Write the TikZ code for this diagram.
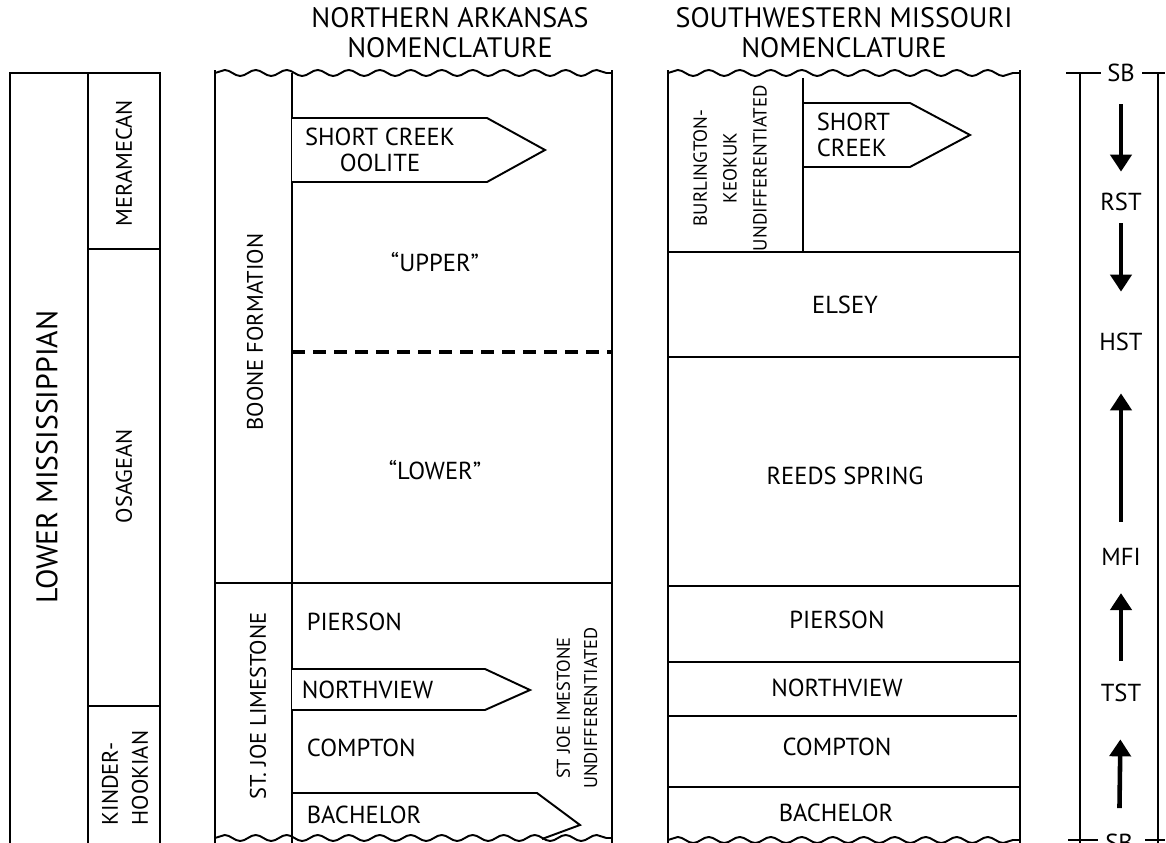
\documentclass[tikz,border=0pt]{standalone}
\usepackage{fontspec}
\setmainfont{PT Sans}
\usetikzlibrary{arrows.meta,decorations.pathmorphing}

\tikzset{
    wavy/.style={decorate,decoration={snake,segment length=0.62cm,amplitude=0.06cm}},
    bigdash/.style={line width=2.3pt,dash pattern=on 0.26cm off 0.16cm},
    vlbl/.style={rotate=90,align=center,font=\fontsize{12.8}{17}\selectfont},
    smallvlbl/.style={rotate=90,align=center,font=\fontsize{10.8}{17}\selectfont},
    headlbl/.style={align=center,font=\fontsize{16}{17}\selectfont},
    seqlbl/.style={inner sep=0pt},
    seqarrow/.style={line width=2.6pt,-{Triangle[width=0.42cm,length=0.34cm]}},
}

\begin{document}
\begin{tikzpicture}[line width=1.1pt,font=\fontsize{14}{17}\selectfont]
        \useasboundingbox (0,0) rectangle (23.32,16.86);

        \draw (0.2,0) -- (0.2,15.4) -- (3.2,15.4) -- (3.2,0);
        \draw (1.76,0) -- (1.76,15.4);
        \draw (1.76,11.88) -- (3.2,11.88);
        \draw (1.76,2.74) -- (3.2,2.74);
        \node[rotate=90,font=\fontsize{17}{20}\selectfont] (lowmiss) at (0.94,7.72) {LOWER MISSISSIPPIAN};
        \node[vlbl] (meramecan) at (2.48,13.6) {MERAMECAN};
        \node[vlbl] (osagean) at (2.48,7.34) {OSAGEAN};
        \node[vlbl,align=left] (kinder) at (2.5,1.3) {KINDER-\\HOOKIAN};

        \node[headlbl] (nahead) at (9.0,16.2) {NORTHERN ARKANSAS\\NOMENCLATURE};
        \draw[wavy] (4.3,15.4) -- (12.24,15.4);
        \draw[wavy] (4.3,0.1) -- (12.24,0.1);
        \draw (4.3,15.45) -- (4.3,0);
        \draw (5.84,15.4) -- (5.84,0);
        \draw (12.24,15.45) -- (12.24,0);
        \draw (4.3,5.2) -- (12.24,5.2);
        \draw[bigdash] (5.84,9.82) -- (12.24,9.82);
        \draw[fill=white] (5.84,14.5) -- (9.74,14.5) -- (10.9,13.86) -- (9.74,13.22) -- (5.84,13.22);
        \draw[fill=white] (5.84,3.48) -- (9.7,3.48) -- (10.6,3.06) -- (9.7,2.66) -- (5.84,2.66);
        \draw (5.84,1.0) -- (10.74,1.0) -- (11.6,0.36) -- (10.84,0.08);
        \node[vlbl] (boone) at (5.1,10.22) {BOONE FORMATION};
        \node[vlbl] (stjoe) at (5.16,2.74) {ST. JOE LIMESTONE};
        \node[align=center,font=\fontsize{14}{14.5}\selectfont] (oolite) at (7.6,13.86) {SHORT CREEK\\OOLITE};
        \node (upper) at (8.7,11.62) {“UPPER”};
        \node (lower) at (8.7,7.46) {“LOWER”};
        \node[anchor=west] (napierson) at (6.0,4.42) {PIERSON};
        \node[anchor=west] (nanorthview) at (5.9,3.06) {NORTHVIEW};
        \node[anchor=west] (nacompton) at (6.0,1.9) {COMPTON};
        \node[anchor=west] (nabachelor) at (6.0,0.56) {BACHELOR};
        \node[smallvlbl,font=\fontsize{10.5}{15.5}\selectfont] (stjoeund) at (11.54,2.7) {ST JOE IMESTONE\\UNDIFFERENTIATED};

        \node[headlbl] (mohead) at (16.88,16.2) {SOUTHWESTERN MISSOURI\\NOMENCLATURE};
        \draw[wavy] (13.36,15.4) -- (20.4,15.4);
        \draw[wavy] (13.36,0.06) -- (20.4,0.06);
        \draw (13.36,15.45) -- (13.36,0);
        \draw (20.4,15.45) -- (20.4,0);
        \draw (16.06,15.3) -- (16.06,11.82);
        \draw (13.36,11.82) -- (20.4,11.82);
        \draw (13.36,9.72) -- (20.4,9.72);
        \draw (13.36,5.14) -- (20.4,5.14);
        \draw (13.36,3.62) -- (20.4,3.62);
        \draw (13.36,2.54) -- (20.34,2.54);
        \draw (13.36,1.12) -- (20.4,1.12);
        \draw (16.06,14.8) -- (18.2,14.8) -- (19.4,14.16) -- (18.2,13.52) -- (16.06,13.52);
        \node[smallvlbl] (burlington) at (14.6,13.5) {BURLINGTON-\\KEOKUK\\UNDIFFERENTIATED};
        \node[anchor=west,align=left,font=\fontsize{14}{14.5}\selectfont] (moshort) at (16.2,14.16) {SHORT\\CREEK};
        \node (elsey) at (16.9,10.76) {ELSEY};
        \node (reeds) at (16.9,7.34) {REEDS SPRING};
        \node (mopierson) at (16.74,4.46) {PIERSON};
        \node (monorthview) at (16.74,3.1) {NORTHVIEW};
        \node (mocompton) at (16.74,1.92) {COMPTON};
        \node (mobachelor) at (16.72,0.6) {BACHELOR};

        \draw (21.6,15.4) -- (21.6,0);
        \draw (23.16,15.4) -- (23.16,0);
        \draw (21.32,15.4) -- (22.02,15.4);
        \draw (22.84,15.4) -- (23.3,15.4);
        \draw (21.36,0.06) -- (21.96,0.06);
        \draw (22.9,0.06) -- (23.3,0.06);
        \node[seqlbl] (sbtop) at (22.42,15.4) {SB};
        \node[seqlbl] (rst) at (22.42,12.82) {RST};
        \node[seqlbl] (hst) at (22.42,10.02) {HST};
        \node[seqlbl] (mfi) at (22.42,5.72) {MFI};
        \node[seqlbl] (tst) at (22.42,3.0) {TST};
        \node[seqlbl] (sbbot) at (22.38,0.0) {SB};
        \draw[seqarrow,shorten <=0.43cm,shorten >=0.41cm] (sbtop) -- (rst);
        \draw[seqarrow,shorten <=0.23cm,shorten >=0.81cm] (rst) -- (hst);
        \draw[seqarrow,shorten <=0.51cm,shorten >=0.83cm] (mfi) -- (hst);
        \draw[seqarrow,shorten <=0.45cm,shorten >=0.53cm] (tst) -- (mfi);
        \draw[seqarrow,shorten <=0.5cm,shorten >=0.73cm] (sbbot) -- (tst);
\end{tikzpicture}
\end{document}
